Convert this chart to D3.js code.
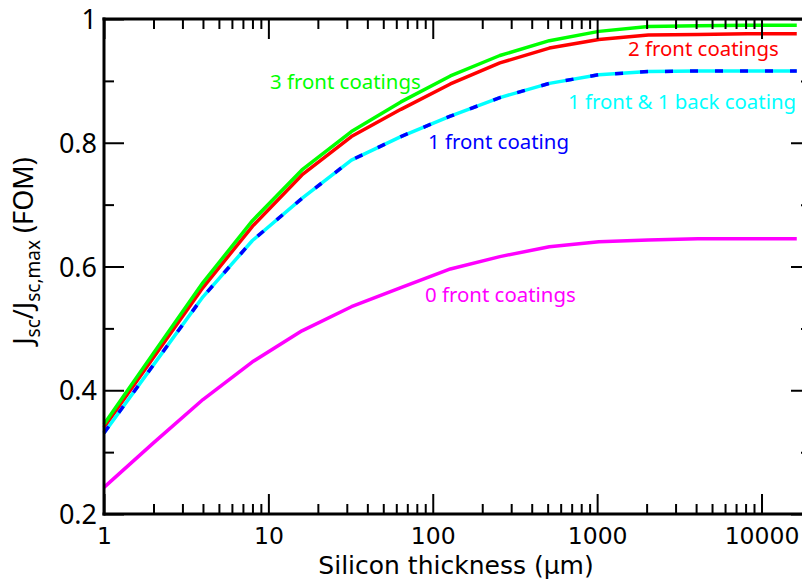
<!DOCTYPE html>
<html>
<head>
<meta charset="utf-8">
<script src="https://cdn.jsdelivr.net/npm/d3@7"></script>
<style>
  html, body { margin: 0; padding: 0; background: #fff; }
  svg { display: block; }
  text { font-family: "Noto Sans", "DejaVu Sans", sans-serif; }
</style>
</head>
<body>
<svg id="chart" width="802" height="580"></svg>
<script>
// ---- data ----
const thickness = [1, 2, 4, 8, 16, 32, 64, 128, 256, 512, 1024, 2048, 4096, 8192, 16384];
const fom0Front = [0.243, 0.315, 0.385, 0.446, 0.496, 0.535, 0.566, 0.596, 0.616, 0.632, 0.640, 0.643, 0.645, 0.645, 0.645];
const fom1Front = [0.331, 0.441, 0.551, 0.642, 0.710, 0.772, 0.810, 0.843, 0.873, 0.896, 0.910, 0.915, 0.916, 0.916, 0.916];
const fom1Front1Back = [0.331, 0.441, 0.551, 0.642, 0.710, 0.772, 0.810, 0.843, 0.873, 0.896, 0.910, 0.915, 0.916, 0.916, 0.916];
const fom2Front = [0.340, 0.453, 0.566, 0.665, 0.748, 0.810, 0.854, 0.895, 0.929, 0.953, 0.967, 0.974, 0.975, 0.976, 0.976];
const fom3Front = [0.345, 0.460, 0.574, 0.674, 0.756, 0.818, 0.866, 0.908, 0.941, 0.965, 0.980, 0.988, 0.989, 0.990, 0.990];
const seriesNames = ["0 front coatings", "1 front coating", "1 front & 1 back coating", "2 front coatings", "3 front coatings"];
const xMajorTicks = [1, 10, 100, 1000, 10000];
const xTickLabels = ["1", "10", "100", "1000", "10000"];
const yMajorTicks = [0.2, 0.4, 0.6, 0.8, 1.0];
const yTickLabels = ["0.2", "0.4", "0.6", "0.8", "1"];
const xTitle = "Silicon thickness (μm)";

// ---- layout ----
const svg = d3.select("#chart");
const L = 104, R = 811, T = 19, B = 514;
const x = d3.scaleLog().domain([1, 20000]).range([L, R]);
const y = d3.scaleLinear().domain([0.2, 1]).range([B, T]);

const xMinor = [];
for (let d = 1; d <= 10000; d *= 10) for (let m = 2; m <= 9; m++) if (d * m <= 20000) xMinor.push(d * m);
const yMinor = d3.range(0.3, 1.0, 0.2).map(v => +v.toFixed(1));

// ---- series ----
const series = [
  { vals: fom0Front, color: "#ff00ff", dash: null },
  { vals: fom2Front, color: "#ff0000", dash: null },
  { vals: fom3Front, color: "#00ff00", dash: null },
  { vals: fom1Front1Back, color: "#00ffff", dash: null },
  { vals: fom1Front, color: "#0000ff", dash: "8,17" }
];
const line = d3.line().x(d => x(d[0])).y(d => y(d[1]));
svg.append("g").selectAll("path").data(series).join("path")
  .attr("d", s => line(thickness.map((t, i) => [t, s.vals[i]])))
  .attr("fill", "none")
  .attr("stroke", s => s.color)
  .attr("stroke-width", 3.5)
  .attr("stroke-linejoin", "round")
  .attr("stroke-dasharray", s => s.dash);

// ---- axes ----
function styleAxis(g) {
  g.select(".domain").remove();
  g.selectAll(".tick line").attr("stroke", "#000").attr("stroke-width", 2);
}
// bottom
svg.append("g").attr("transform", `translate(0,${B})`)
  .call(d3.axisBottom(x).tickValues(xMajorTicks).tickSize(-20).tickFormat((d, i) => xTickLabels[i]))
  .call(styleAxis)
  .call(g => g.selectAll(".tick text").attr("y", 30).attr("dy", null)
    .attr("font-size", 23.5).attr("fill", "#000").style("font-family", "'DejaVu Sans'"));
svg.append("g").attr("transform", `translate(0,${B})`)
  .call(d3.axisBottom(x).tickValues(xMinor).tickSize(-10).tickFormat(""))
  .call(styleAxis);
// top
svg.append("g").attr("transform", `translate(0,${T})`)
  .call(d3.axisTop(x).tickValues(xMajorTicks).tickSize(-20).tickFormat(""))
  .call(styleAxis);
svg.append("g").attr("transform", `translate(0,${T})`)
  .call(d3.axisTop(x).tickValues(xMinor).tickSize(-10).tickFormat(""))
  .call(styleAxis);
// left
svg.append("g").attr("transform", `translate(${L},0)`)
  .call(d3.axisLeft(y).tickValues(yMajorTicks).tickSize(-20).tickFormat((d, i) => yTickLabels[i]))
  .call(styleAxis)
  .call(g => g.selectAll(".tick text").attr("x", -7).attr("dy", "0.36em")
    .attr("font-size", 27).attr("fill", "#000").style("font-family", "'Noto Sans'"));
svg.append("g").attr("transform", `translate(${L},0)`)
  .call(d3.axisLeft(y).tickValues(yMinor).tickSize(-10).tickFormat(""))
  .call(styleAxis);
// right
svg.append("g").attr("transform", `translate(${R},0)`)
  .call(d3.axisRight(y).tickValues(yMajorTicks).tickSize(-20).tickFormat(""))
  .call(styleAxis);
svg.append("g").attr("transform", `translate(${R},0)`)
  .call(d3.axisRight(y).tickValues(yMinor).tickSize(-10).tickFormat(""))
  .call(styleAxis);

// frame lines
svg.append("g").attr("stroke", "#000").attr("stroke-width", 3).attr("stroke-linecap", "square")
  .selectAll("line").data([[L, T, L, B], [L, B, R, B], [L, T, R, T], [R, T, R, B]]).join("line")
  .attr("x1", d => d[0]).attr("y1", d => d[1]).attr("x2", d => d[2]).attr("y2", d => d[3]);

// ---- series labels ----
const labelPos = [
  { name: seriesNames[0], color: "#ff00ff", x: 425, y: 302 },
  { name: seriesNames[1], color: "#0000ff", x: 428, y: 149 },
  { name: seriesNames[2], color: "#00ffff", x: 568, y: 109 },
  { name: seriesNames[3], color: "#ff0000", x: 628, y: 56 },
  { name: seriesNames[4], color: "#00ff00", x: 270, y: 89 }
];
svg.append("g").selectAll("text").data(labelPos).join("text")
  .attr("x", d => d.x).attr("y", d => d.y)
  .attr("fill", d => d.color)
  .attr("font-size", 20.4)
  .text(d => d.name);

// ---- axis titles ----
svg.append("text").attr("x", 456).attr("y", 574).attr("text-anchor", "middle")
  .attr("font-size", 25).style("font-family", "'DejaVu Sans'").attr("fill", "#000").text(xTitle);

const yt = svg.append("text")
  .attr("transform", "translate(33,251) rotate(-90)")
  .attr("text-anchor", "middle").attr("font-size", 27).attr("fill", "#000");
yt.append("tspan").text("J");
yt.append("tspan").attr("font-size", 19).attr("dy", 7).text("sc");
yt.append("tspan").attr("dy", -7).text("/J");
yt.append("tspan").attr("font-size", 19).attr("dy", 7).text("sc,max");
yt.append("tspan").attr("dy", -7).text(" (FOM)");
</script>
</body>
</html>
